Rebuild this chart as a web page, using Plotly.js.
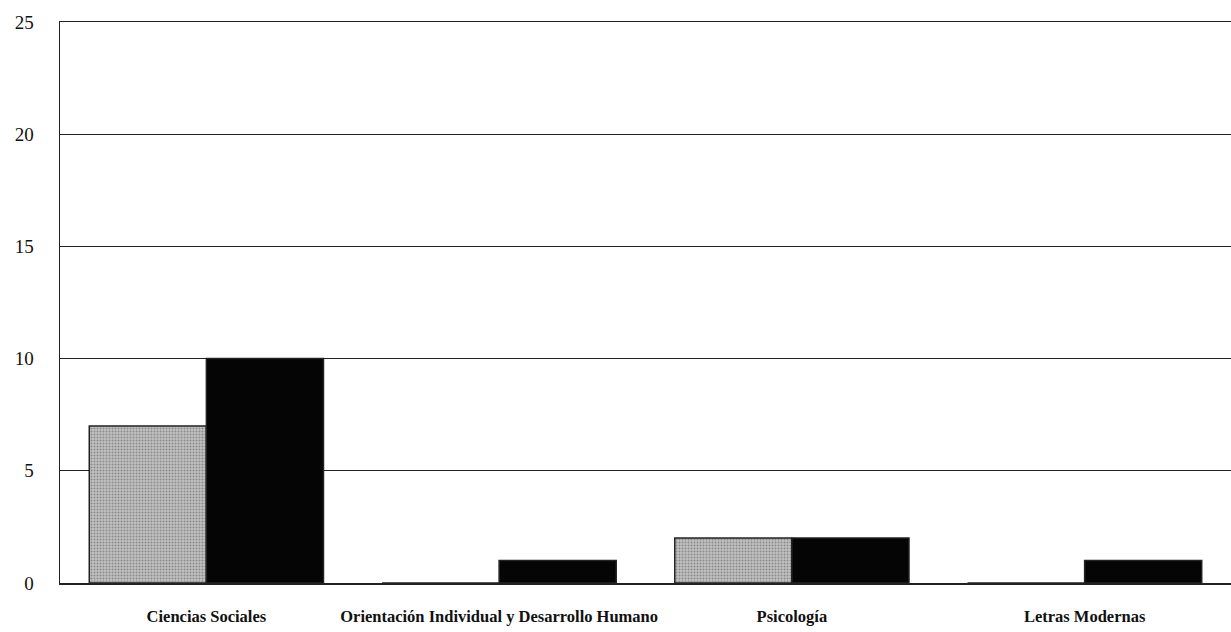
<!DOCTYPE html>
<html>
<head>
<meta charset="utf-8">
<script src="https://cdn.plot.ly/plotly-3.0.1.min.js"></script>
<style>html,body{margin:0;padding:0;background:#fff;}#chart{width:1231px;height:632px;}</style>
</head>
<body>
<div id="chart"></div>
<script>
const categories = ["Ciencias Sociales", "Orientación Individual y Desarrollo Humano", "Psicología", "Letras Modernas"];
const seriesGray = [7, 0, 2, 0];
const seriesBlack = [10, 1, 2, 1];
const yTicks = [0, 5, 10, 15, 20, 25];

const traces = [
  {
    type: "bar", x: categories, y: seriesGray, name: "Serie 1",
    marker: {
      color: "#b0b0b0",
      line: {color: "#222", width: 1.5},
      pattern: {shape: ".", fgcolor: "#8a8a8a", bgcolor: "#c2c2c2", size: 3, solidity: 0.35}
    }
  },
  {
    type: "bar", x: categories, y: seriesBlack, name: "Serie 2",
    marker: {color: "#050505", line: {color: "#222", width: 1.5}}
  }
];

const layout = {
  width: 1231, height: 632,
  margin: {l: 60, r: 0, t: 22, b: 49},
  paper_bgcolor: "#fff", plot_bgcolor: "#fff",
  showlegend: false,
  barmode: "group", bargap: 0.2, bargroupgap: 0,
  font: {family: "Liberation Serif, serif", color: "#111"},
  xaxis: {
    type: "category", showgrid: false, showline: true, mirror: true, linecolor: "#222", linewidth: 1.5,
    ticks: "", ticklabelstandoff: 18,
    tickfont: {family: "Liberation Serif, serif", size: 16.5, weight: "bold", color: "#111"}
  },
  yaxis: {
    range: [0, 25], tickvals: yTicks, ticktext: yTicks.map(String),
    showgrid: true, gridcolor: "#222", gridwidth: 1.2,
    showline: true, linecolor: "#222", linewidth: 1.5, zeroline: false,
    ticks: "", ticklabelstandoff: 21,
    tickfont: {family: "Liberation Serif, serif", size: 19, color: "#111"}
  }
};

Plotly.newPlot("chart", traces, layout, {displayModeBar: false, staticPlot: true});
</script>
</body>
</html>
